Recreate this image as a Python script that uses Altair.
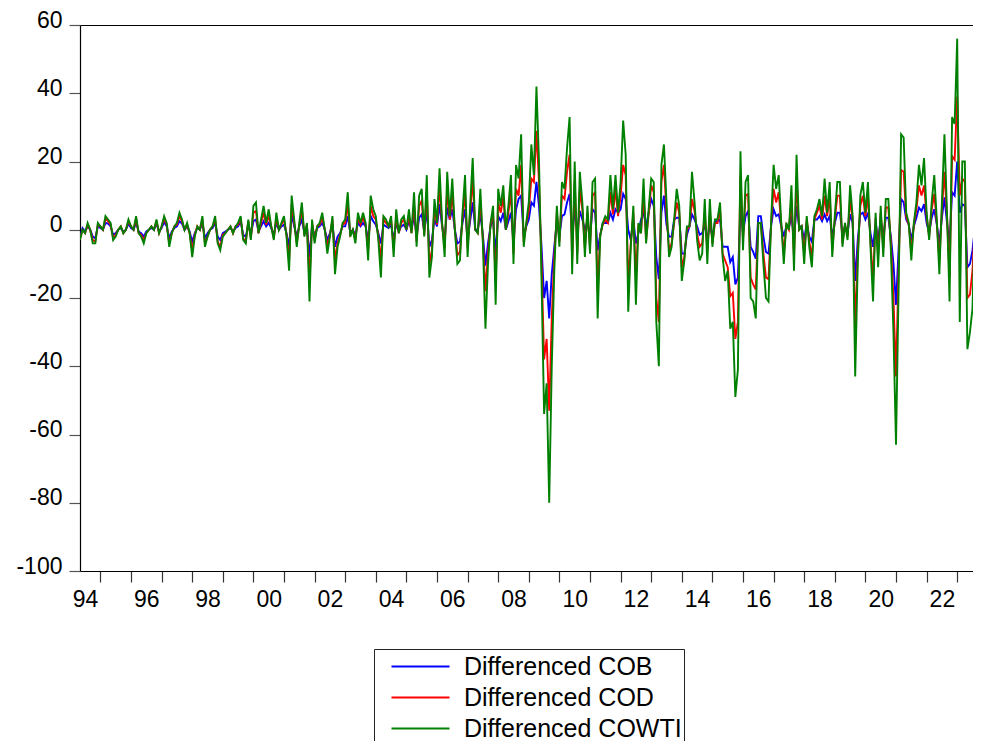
import altair as alt
import pandas as pd

# Monthly observations, first one 1994M05, last one 2023M10
START_YEAR = 1994
START_MONTH = 5

SERIES = ["Differenced COB", "Differenced COD", "Differenced COWTI"]
COLORS = ["#0000FF", "#FF0000", "#008000"]

COWTI = [
    -3, 0, -1, 2, 0, -4, -4, 2,                                  # 1994
    1, 0, 4, 3, 2, -3, -2, 0, 1, -1, 0, 3,                       # 1995
    1, 0, 4, -1, -2, -4, -1, 0, 1, 0, 3, -1,                     # 1996
    1, 4, 2, -5, -1, 1, 2, 5, 3, 0, 2, -1,                       # 1997
    -8, -2, 1, 0, 4, -5, -2, 0, 1, 4, -4, -6,                    # 1998
    -2, -1, 0, 1, -1, 1, 2, 4, -3, -4, 3, -3,                    # 1999
    7, 8, -1, 3, 7, 2, 6, 1, -3, 5, 0, 2,                        # 2000
    4, -2, -12, 10, 3, -5, 2, 8, -2, 2, -21, 3,                  # 2001
    -4, 1, 2, 5, 0, -7, -2, 4, -13, -5, -2, 2,                   # 2002
    3, 11, -2, 0, -4, 5, 2, 5, 2, -9, 10, 6,                     # 2003
    4, -3, -14, 4, 3, 1, 4, -8, 6, -1, 3, 4,                     # 2004
    0, 6, -1, 11, -5, 10, 12, -2, 16, -14, -8, 9,                # 2005
    2, 18, 2, -8, 17, 4, 15, 0, -10, -9, 5, 16,                  # 2006
    -8, 7, 21, 0, -1, 12, -4, -29, -10, 2, 7, -22,               # 2007
    12, 7, 13, 0, 7, 16, -10, 19, 15, 28, -5, 2,                 # 2008
    8, 25, 16, 42, 20, -15, -54, -45, -80, -40, -12, 7,          # 2009
    -5, 14, 12, 24, 33, -13, 20, -10, 17, 8, -8, 7,              # 2010
    -7, 14, 15, -26, -2, 2, 4, 3, 16, 6, 16, 5,                  # 2011
    14, 32, 22, -24, -5, 7, -22, 2, -1, 15, -4, 6,               # 2012
    15, 14, -27, -40, 19, 25, 8, -8, -5, 3, 12, 7,               # 2013
    -15, -9, 1, 1, 17, 8, -3, -9, -7, 9, -10, 9,                 # 2014
    -5, 3, 3, 8, -8, -15, -12, -29, -27, -49, -41, 23,           # 2015
    -6, 14, 16, -20, -21, -26, 2, 2, -10, -20, -21, 2,           # 2016
    19, 12, 16, 2, -10, 2, 0, 13, -12, 22, 0, 1,                 # 2017
    -10, 4, -5, -11, 4, 6, 9, 4, 15, 5, 14, -8,                  # 2018
    4, 14, 14, -5, 2, -3, 13, 4, -43, -10, 10, 14,               # 2019
    5, 14, -5, -21, 5, -11, 7, -8, 9, 9, -6, -30,                # 2020
    -63, -18, 28, 27, 5, 2, -9, 2, 8, 19, 13, 21,                # 2021
    5, -3, 8, 16, 3, -13, 8, 28, 5, -21, 33, 31,                 # 2022
    56, -27, 20, 20, -35, -30, -23, 6, -5, -28,                  # 2023
]

COD = [
    -2.5, 0, -1, 1.5, 0, -3, -3.5, 1.5,                                  # 1994
    1, 0, 3.2, 2.5, 1.5, -2.5, -1.5, 0, 1, -1, 0, 2.5,                   # 1995
    1, 0, 3.2, -1, -1.5, -3, -1, 0, 1, 0, 2.5, -1,                       # 1996
    1, 3.3, 1.5, -4, -1, 1, 1.5, 4, 2.5, 0, 1.5, -1,                     # 1997
    -6, -1.5, 1, 0, 3, -4, -2, 0, 1, 3, -3.5, -5,                        # 1998
    -1.5, -1, 0, 1, -1, 1, 1.5, 3.5, -2.5, -3.5, 2.5, -2.5,              # 1999
    5, 5.5, -1, 2, 5, 1.5, 4, 1, -2.5, 3.5, 0, 1.5,                      # 2000
    3, -1.5, -9, 7.5, 2, -4, 1.5, 6, -1.5, 1.5, -15, 2,                  # 2001
    -3, 1, 1.5, 3.5, 0, -5, -1.5, 3, -9, -4, -1.5, 1.5,                  # 2002
    2, 7.5, -1.5, 0, -3, 3.5, 1.5, 3.5, 1.5, -6, 7, 4,                   # 2003
    3, -2, -9, 3, 2, 1, 3, -5.5, 4, -1, 2, 3,                            # 2004
    0, 4, -1, 7.5, -3.5, 7, 8.5, -1.5, 11, -10, -6, 6.5,                 # 2005
    1.5, 13, 1.5, -5.5, 12, 3, 10.5, 0, -7.5, -6.5, 3.5, 11,             # 2006
    -5.5, 5, 15, 0, -1, 8.5, -3, -18, -7, 1.5, 5, -15,                   # 2007
    8, 5, 9.5, 0, 5, 11, -7, 12, 10, 19, -3.5, 1.5,                      # 2008
    5.5, 15, 14, 29, 14, -10, -38, -32, -53, -26, -8, 5,                 # 2009
    -3.5, 10, 9, 17, 22, -9, 14, -7, 12, 6, -5.5, 5,                     # 2010
    -5, 10, 11, -18, -1.5, 1.5, 3, 2, 11, 4.5, 12, 4,                    # 2011
    10, 19, 16, -16, -4, 5, -14, 1.5, -1, 10, -3, 4.5,                   # 2012
    13, 11, -20, -27, 14, 19, 5, -6, -4, 2, 8, 5,                        # 2013
    -11, -8, 0, 1, 9, 5.5, -1, -5, -4, 5, -6, 5,                         # 2014
    -4, 2, 2, 6, -7, -9, -11, -19.5, -18.5, -32, -27, 16,                # 2015
    -3, 10, 10.5, -14, -16, -17.5, 2, 2, -7, -14, -14.5, 1.5,            # 2016
    12, 8, 11, 1.5, -7, 1.5, 0, 9, -8, 15, 0, 1,                         # 2017
    -7, 3, -3.5, -8, 3, 5, 7, 3, 10, 4, 10, -6,                          # 2018
    3, 10, 10, -4, 1.5, -2, 9, 3, -29, -7, 7, 10,                        # 2019
    4, 10, -3.5, -15, 3.5, -7.5, 5, -5.5, 6.5, 6.5, -4, -20,             # 2020
    -43, -12, 17.5, 17, 4, 1.5, -6.5, 1.5, 6, 13, 10, 13,                # 2021
    4, -2, 6, 10.5, 2, -9, 6, 17, 4, -14, 21.5, 20.5,                    # 2022
    39, 10, 15, 14, -20, -19, -12, 3, -4, -10,                           # 2023
]

COB = [
    -2, 0.5, -0.5, 1, 0, -2, -2.5, 1,                                    # 1994
    0.5, 0, 2, 1.8, 1, -1.5, -1, 0, 0.5, -0.5, 0, 1.8,                   # 1995
    0.5, 0, 2, -0.5, -1, -2, -0.5, 0, 0.5, 0, 1.8, -0.5,                 # 1996
    0.5, 2.2, 1, -2.5, -0.5, 0.5, 1, 2.5, 1.8, 0, 1, -0.5,               # 1997
    -3.5, -1, 0.5, 0, 2, -2.5, -1, 0, 0.5, 2, -2, -3,                    # 1998
    -1, -0.5, 0, 0.5, -0.5, 0.5, 1, 2.5, -1.5, -2, 1.5, -1.5,            # 1999
    2.5, 3, -0.5, 1, 2.5, 1, 2, 0.5, -1.5, 2, 0, 1,                      # 2000
    1.5, -1, -5, 4.5, 1, -2, 1, 3, -1, 1, -8, 1,                         # 2001
    -2, 0.5, 1, 2, 0, -3, -1, 1.5, -5, -2, -1, 1,                        # 2002
    1, 4, -1, 0, -1.5, 2, 1, 2, 1, -3, 4, 2.5,                           # 2003
    1.5, -1, -4, 1.5, 1, 0.5, 1.5, -3, 2, -0.5, 1, 1.5,                  # 2004
    0, 2.5, 0, 4, -2, 3.5, 4.5, -0.5, 6, -5, -3, 3,                      # 2005
    1, 7.5, 1, -3, 6.5, 3, 6, 0, -4, -3.5, 2, 6,                         # 2006
    -3, 2.5, 8, 0, 0, 4.5, -1.5, -10.5, -4, 1, 3, -7,                    # 2007
    4, 2.5, 5, 0, 2.5, 5, -3.5, 6, 9, 10, -2, 1,                         # 2008
    3, 8, 7, 14, 7, -5, -20, -15, -26, -13, -5, 2.5,                     # 2009
    -2, 4, 4.5, 8, 10.5, -2, 6, -1, 5.5, 3, 0, 2.5,                      # 2010
    -2, 6, 5, -6, -1.5, 2, 2, 2, 5, 3, 6, 5,                             # 2011
    6, 10.5, 9, 0, -3, 3, -4, -1, 3, 5, 1, 5,                            # 2012
    9, 7, -8, -14.5, 5, 10, 1.5, -2, -2, 3, 3.5, 3.5,                    # 2013
    -7, -7, -1.5, 1, 4.5, 3, 1, -1.5, -1, 1.5, -3, 1.5,                  # 2014
    -2, 2.5, 2.5, 3, -5, -5, -5, -9.5, -8, -16, -14, 6,                  # 2015
    -1, 4, 5.5, -5, -6.5, -8.5, 4, 4, -2, -6.5, -7, 1,                   # 2016
    6, 4, 4.5, 1, -2, 1, 0.5, 4, -3, 7, 1, 1,                            # 2017
    -3, 2, -2, -3.5, 3, 3, 4, 2.5, 4.5, 2.5, 4, -2,                      # 2018
    2, 5, 5, -1.5, 1, -1, 4.5, 2, -15, -3, 4.5, 5,                       # 2019
    3, 5, -1, -5, 2, -3, 3, -2, 3.5, 3.5, -2, -10,                       # 2020
    -22, -6, 9, 8, 3, 1.5, -3, 1, 3.5, 6.5, 5.5, 7.5,                    # 2021
    2, -1, 3.5, 6, 1.5, -4, 3.5, 9.5, 2, -4, 11, 10,                     # 2022
    20, 5, 7.5, 7, -11, -10, -6, 1, -2, -2,                              # 2023
]

Y_TICKS = [-100, -80, -60, -40, -20, 0, 20, 40, 60]
YEAR_TICKS = list(range(1995, 2024))                      # tick marks at year boundaries
YEAR_LABEL_POS = [y + 0.5 for y in range(1994, 2023, 2)]  # labels centred in even years

rows = []
for name, vals in zip(SERIES, [COB, COD, COWTI]):
    for k, v in enumerate(vals):
        rows.append({"t": START_YEAR + (START_MONTH - 1 + k) / 12.0,
                     "v": v, "series": name})
df = pd.DataFrame(rows)

PLOT_W = 893          # plot area runs to the window's right edge
PX_PER_YEAR = 30.6
t0 = df["t"].min()
t_end = t0 + PLOT_W / PX_PER_YEAR   # window cuts the plot just before the last months

xscale = alt.Scale(domain=[t0, t_end], nice=False, zero=False)
label_expr = ("datum.value % 1 != 0 ? "
              "((floor(datum.value) % 100) < 10 ? '0' : '') + (floor(datum.value) % 100) : ''")

lines = alt.Chart(df).mark_line(strokeWidth=1.9, clip=True).encode(
    x=alt.X("t:Q", scale=xscale,
            axis=alt.Axis(orient="bottom", values=YEAR_TICKS + YEAR_LABEL_POS,
                          labelExpr=label_expr,
                          tickOpacity={"condition": {"test": "datum.value % 1 != 0", "value": 0},
                                       "value": 1},
                          tickSize=11, tickWidth=1.2, tickColor="#333",
                          domainColor="black", domainWidth=1.2,
                          labelPadding=6, labelOverlap=False, labelFlush=False,
                          labelBound=False, grid=False, title=None)),
    y=alt.Y("v:Q", scale=alt.Scale(domain=[-100, 60], nice=False, zero=False),
            axis=alt.Axis(values=Y_TICKS, labelExpr="'' + datum.value",
                          tickSize=11, tickWidth=1.2, tickColor="#555",
                          domainColor="black", domainWidth=1.2,
                          labelPadding=7, labelOffset=-5, grid=False, title=None)),
    color=alt.Color("series:N",
                    scale=alt.Scale(domain=SERIES, range=COLORS),
                    legend=alt.Legend(title=None, orient="none", legendX=294, legendY=624,
                                      direction="vertical",
                                      labelFont="Liberation Sans", labelFontSize=25,
                                      labelColor="black", labelLimit=500,
                                      symbolType="M0,0H4", symbolSize=841,
                                      symbolStrokeWidth=2, labelOffset=57,
                                      padding=2, rowPadding=2,
                                      strokeColor="#222", fillColor="white",
                                      cornerRadius=0)),
)

top_axis = alt.Chart(pd.DataFrame({"t": [t0]})).mark_rule(opacity=0).encode(
    x=alt.X("t:Q", scale=xscale,
            axis=alt.Axis(orient="top", ticks=False, labels=False,
                          domainColor="black", domainWidth=1.2, grid=False, title=None)),
)

chart = alt.layer(lines, top_axis).resolve_axis(x="independent").properties(
    width=PLOT_W, height=546,
    padding={"left": 72, "top": 17, "right": 0, "bottom": 170},
    autosize=alt.AutoSizeParams(type="none"),
    background="white",
).configure_view(strokeWidth=0).configure_axis(
    labelFont="Liberation Sans", labelFontSize=23, labelColor="black",
)

chart.save("out.html", embed_options={"renderer": "svg", "actions": False})
